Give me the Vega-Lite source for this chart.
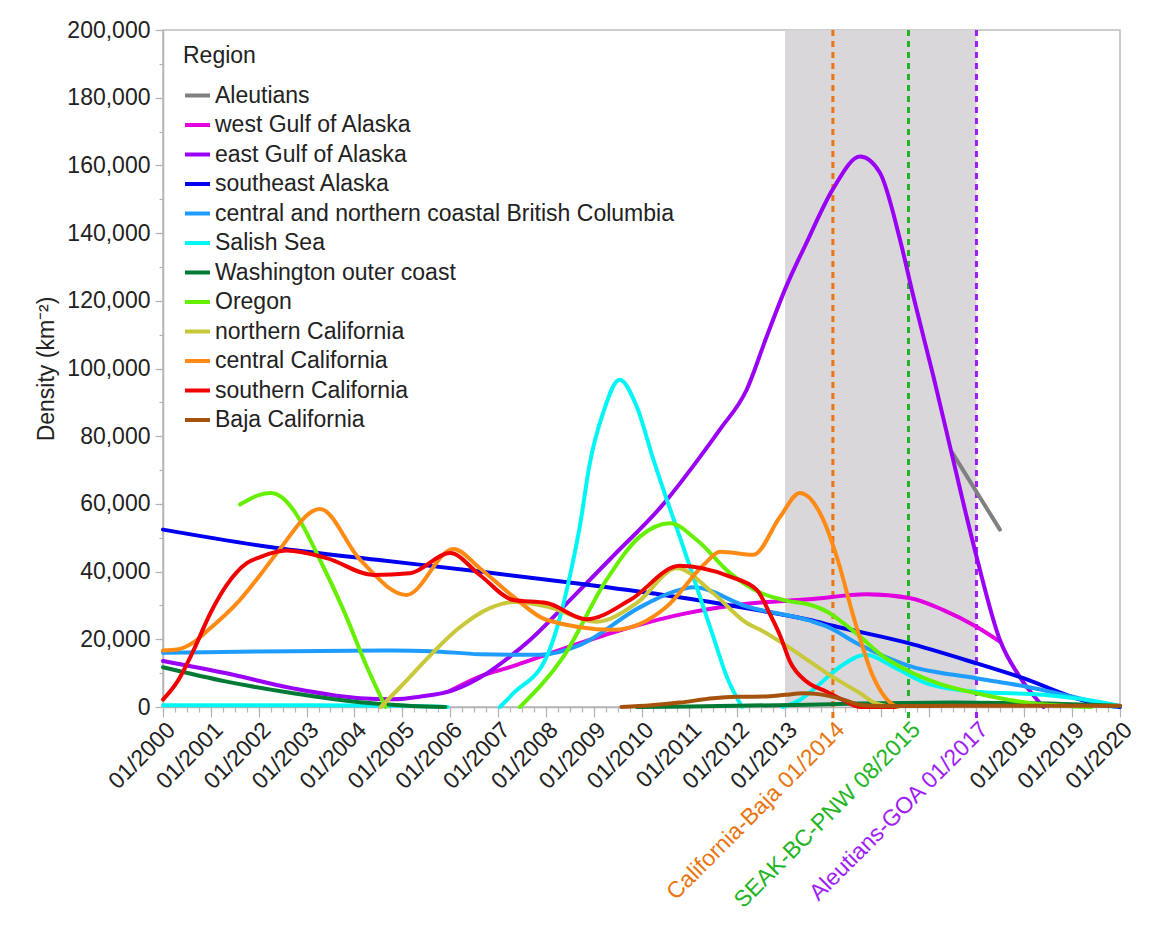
{
  "$schema": "https://vega.github.io/schema/vega-lite/v6.json",
  "width": 957,
  "height": 677,
  "autosize": "none",
  "padding": {"left": 163, "top": 30, "right": 36, "bottom": 226},
  "background": "white",
  "config": {
    "font": "Liberation Sans",
    "view": {"stroke": "#bdbdbd", "strokeWidth": 1.5},
    "axis": {
      "domainColor": "#b4b4b4",
      "domainWidth": 1.5,
      "tickColor": "#b4b4b4",
      "tickWidth": 1.2,
      "grid": false,
      "labelColor": "#222222",
      "labelFont": "Liberation Sans",
      "labelFontSize": 23,
      "titleFont": "Liberation Sans",
      "titleColor": "#222222"
    }
  },
  "datasets": {
    "density": [
      {"r": "Aleutians", "s": 1, "x": 2016.5, "y": 75000},
      {"r": "Aleutians", "s": 1, "x": 2017.49, "y": 52400},

      {"r": "west Gulf of Alaska", "s": 1, "x": 2006.0, "y": 4800},
      {"r": "west Gulf of Alaska", "s": 1, "x": 2006.62, "y": 9000},
      {"r": "west Gulf of Alaska", "s": 1, "x": 2007.3, "y": 12000},
      {"r": "west Gulf of Alaska", "s": 1, "x": 2008.0, "y": 15400},
      {"r": "west Gulf of Alaska", "s": 1, "x": 2009.4, "y": 22000},
      {"r": "west Gulf of Alaska", "s": 1, "x": 2010.8, "y": 27300},
      {"r": "west Gulf of Alaska", "s": 1, "x": 2012.2, "y": 30500},
      {"r": "west Gulf of Alaska", "s": 1, "x": 2013.5, "y": 31800},
      {"r": "west Gulf of Alaska", "s": 1, "x": 2014.7, "y": 33300},
      {"r": "west Gulf of Alaska", "s": 1, "x": 2015.6, "y": 32200},
      {"r": "west Gulf of Alaska", "s": 1, "x": 2016.3, "y": 28700},
      {"r": "west Gulf of Alaska", "s": 1, "x": 2017.0, "y": 23700},
      {"r": "west Gulf of Alaska", "s": 1, "x": 2017.49, "y": 19300},

      {"r": "east Gulf of Alaska", "s": 1, "x": 2000.0, "y": 13600},
      {"r": "east Gulf of Alaska", "s": 1, "x": 2001.33, "y": 9950},
      {"r": "east Gulf of Alaska", "s": 1, "x": 2002.72, "y": 5500},
      {"r": "east Gulf of Alaska", "s": 1, "x": 2004.12, "y": 2600},
      {"r": "east Gulf of Alaska", "s": 1, "x": 2004.8, "y": 2300},
      {"r": "east Gulf of Alaska", "s": 1, "x": 2005.37, "y": 3050},
      {"r": "east Gulf of Alaska", "s": 1, "x": 2006.07, "y": 5000},
      {"r": "east Gulf of Alaska", "s": 1, "x": 2006.77, "y": 9950},
      {"r": "east Gulf of Alaska", "s": 1, "x": 2007.25, "y": 14900},
      {"r": "east Gulf of Alaska", "s": 1, "x": 2007.67, "y": 19800},
      {"r": "east Gulf of Alaska", "s": 1, "x": 2008.5, "y": 31500},
      {"r": "east Gulf of Alaska", "s": 1, "x": 2009.4, "y": 44500},
      {"r": "east Gulf of Alaska", "s": 1, "x": 2010.46, "y": 60000},
      {"r": "east Gulf of Alaska", "s": 1, "x": 2011.15, "y": 72500},
      {"r": "east Gulf of Alaska", "s": 1, "x": 2011.64, "y": 82000},
      {"r": "east Gulf of Alaska", "s": 1, "x": 2012.2, "y": 93800},
      {"r": "east Gulf of Alaska", "s": 1, "x": 2012.62, "y": 109600},
      {"r": "east Gulf of Alaska", "s": 1, "x": 2013.03, "y": 124400},
      {"r": "east Gulf of Alaska", "s": 1, "x": 2013.45, "y": 137200},
      {"r": "east Gulf of Alaska", "s": 1, "x": 2014.0, "y": 153000},
      {"r": "east Gulf of Alaska", "s": 1, "x": 2014.57, "y": 162600},
      {"r": "east Gulf of Alaska", "s": 1, "x": 2014.98, "y": 157900},
      {"r": "east Gulf of Alaska", "s": 1, "x": 2015.4, "y": 138200},
      {"r": "east Gulf of Alaska", "s": 1, "x": 2015.68, "y": 121400},
      {"r": "east Gulf of Alaska", "s": 1, "x": 2016.1, "y": 97700},
      {"r": "east Gulf of Alaska", "s": 1, "x": 2016.48, "y": 75000},
      {"r": "east Gulf of Alaska", "s": 1, "x": 2017.0, "y": 44500},
      {"r": "east Gulf of Alaska", "s": 1, "x": 2017.49, "y": 19800},
      {"r": "east Gulf of Alaska", "s": 1, "x": 2017.9, "y": 9000},
      {"r": "east Gulf of Alaska", "s": 1, "x": 2018.33, "y": 1100},
      {"r": "east Gulf of Alaska", "s": 1, "x": 2018.4, "y": 0},

      {"r": "southeast Alaska", "s": 1, "x": 2000.0, "y": 52400},
      {"r": "southeast Alaska", "s": 1, "x": 2002.38, "y": 46950},
      {"r": "southeast Alaska", "s": 1, "x": 2004.47, "y": 43500},
      {"r": "southeast Alaska", "s": 1, "x": 2006.62, "y": 40000},
      {"r": "southeast Alaska", "s": 1, "x": 2008.71, "y": 36400},
      {"r": "southeast Alaska", "s": 1, "x": 2010.46, "y": 33100},
      {"r": "southeast Alaska", "s": 1, "x": 2011.5, "y": 30900},
      {"r": "southeast Alaska", "s": 1, "x": 2012.48, "y": 28500},
      {"r": "southeast Alaska", "s": 1, "x": 2013.52, "y": 25700},
      {"r": "southeast Alaska", "s": 1, "x": 2014.0, "y": 24000},
      {"r": "southeast Alaska", "s": 1, "x": 2015.54, "y": 19000},
      {"r": "southeast Alaska", "s": 1, "x": 2017.0, "y": 12900},
      {"r": "southeast Alaska", "s": 1, "x": 2017.9, "y": 8900},
      {"r": "southeast Alaska", "s": 1, "x": 2019.44, "y": 1200},
      {"r": "southeast Alaska", "s": 1, "x": 2020.0, "y": 0},

      {"r": "central and northern coastal British Columbia", "s": 1, "x": 2000.0, "y": 16000},
      {"r": "central and northern coastal British Columbia", "s": 1, "x": 2002.03, "y": 16400},
      {"r": "central and northern coastal British Columbia", "s": 1, "x": 2004.8, "y": 16700},
      {"r": "central and northern coastal British Columbia", "s": 1, "x": 2005.6, "y": 16500},
      {"r": "central and northern coastal British Columbia", "s": 1, "x": 2006.62, "y": 15600},
      {"r": "central and northern coastal British Columbia", "s": 1, "x": 2007.88, "y": 15400},
      {"r": "central and northern coastal British Columbia", "s": 1, "x": 2008.71, "y": 18300},
      {"r": "central and northern coastal British Columbia", "s": 1, "x": 2009.97, "y": 29500},
      {"r": "central and northern coastal British Columbia", "s": 1, "x": 2010.66, "y": 34000},
      {"r": "central and northern coastal British Columbia", "s": 1, "x": 2011.08, "y": 35400},
      {"r": "central and northern coastal British Columbia", "s": 1, "x": 2012.2, "y": 29700},
      {"r": "central and northern coastal British Columbia", "s": 1, "x": 2013.52, "y": 25500},
      {"r": "central and northern coastal British Columbia", "s": 1, "x": 2013.87, "y": 23800},
      {"r": "central and northern coastal British Columbia", "s": 1, "x": 2014.57, "y": 18300},
      {"r": "central and northern coastal British Columbia", "s": 1, "x": 2015.54, "y": 12400},
      {"r": "central and northern coastal British Columbia", "s": 1, "x": 2017.0, "y": 8500},
      {"r": "central and northern coastal British Columbia", "s": 1, "x": 2018.05, "y": 6000},
      {"r": "central and northern coastal British Columbia", "s": 1, "x": 2019.44, "y": 1600},
      {"r": "central and northern coastal British Columbia", "s": 1, "x": 2019.9, "y": 0},

      {"r": "Salish Sea", "s": 1, "x": 2000.0, "y": 500},
      {"r": "Salish Sea", "s": 1, "x": 2003.0, "y": 500},
      {"r": "Salish Sea", "s": 1, "x": 2005.0, "y": 400},
      {"r": "Salish Sea", "s": 1, "x": 2005.95, "y": 0},
      {"r": "Salish Sea", "s": 2, "x": 2007.04, "y": 0},
      {"r": "Salish Sea", "s": 2, "x": 2007.32, "y": 4000},
      {"r": "Salish Sea", "s": 2, "x": 2008.02, "y": 14900},
      {"r": "Salish Sea", "s": 2, "x": 2008.3, "y": 26700},
      {"r": "Salish Sea", "s": 2, "x": 2008.5, "y": 38500},
      {"r": "Salish Sea", "s": 2, "x": 2008.71, "y": 53300},
      {"r": "Salish Sea", "s": 2, "x": 2008.92, "y": 72000},
      {"r": "Salish Sea", "s": 2, "x": 2009.2, "y": 87000},
      {"r": "Salish Sea", "s": 2, "x": 2009.54, "y": 96700},
      {"r": "Salish Sea", "s": 2, "x": 2009.9, "y": 88800},
      {"r": "Salish Sea", "s": 2, "x": 2010.25, "y": 73000},
      {"r": "Salish Sea", "s": 2, "x": 2010.53, "y": 61200},
      {"r": "Salish Sea", "s": 2, "x": 2010.87, "y": 47400},
      {"r": "Salish Sea", "s": 2, "x": 2011.15, "y": 35600},
      {"r": "Salish Sea", "s": 2, "x": 2011.5, "y": 20800},
      {"r": "Salish Sea", "s": 2, "x": 2011.78, "y": 9000},
      {"r": "Salish Sea", "s": 2, "x": 2012.1, "y": 0},
      {"r": "Salish Sea", "s": 3, "x": 2012.95, "y": 0},
      {"r": "Salish Sea", "s": 3, "x": 2013.3, "y": 2000},
      {"r": "Salish Sea", "s": 3, "x": 2013.66, "y": 6000},
      {"r": "Salish Sea", "s": 3, "x": 2014.15, "y": 11900},
      {"r": "Salish Sea", "s": 3, "x": 2014.7, "y": 15400},
      {"r": "Salish Sea", "s": 3, "x": 2015.26, "y": 11900},
      {"r": "Salish Sea", "s": 3, "x": 2015.96, "y": 7000},
      {"r": "Salish Sea", "s": 3, "x": 2017.0, "y": 4500},
      {"r": "Salish Sea", "s": 3, "x": 2018.4, "y": 3600},
      {"r": "Salish Sea", "s": 3, "x": 2019.8, "y": 900},
      {"r": "Salish Sea", "s": 3, "x": 2020.0, "y": 300},

      {"r": "Washington outer coast", "s": 1, "x": 2000.0, "y": 11750},
      {"r": "Washington outer coast", "s": 1, "x": 2001.33, "y": 7500},
      {"r": "Washington outer coast", "s": 1, "x": 2002.72, "y": 4050},
      {"r": "Washington outer coast", "s": 1, "x": 2004.12, "y": 1400},
      {"r": "Washington outer coast", "s": 1, "x": 2005.2, "y": 300},
      {"r": "Washington outer coast", "s": 1, "x": 2005.9, "y": 0},
      {"r": "Washington outer coast", "s": 2, "x": 2009.9, "y": 0},
      {"r": "Washington outer coast", "s": 2, "x": 2011.0, "y": 150},
      {"r": "Washington outer coast", "s": 2, "x": 2012.0, "y": 350},
      {"r": "Washington outer coast", "s": 2, "x": 2013.5, "y": 700},
      {"r": "Washington outer coast", "s": 2, "x": 2014.5, "y": 1000},
      {"r": "Washington outer coast", "s": 2, "x": 2015.5, "y": 1200},
      {"r": "Washington outer coast", "s": 2, "x": 2016.5, "y": 1300},
      {"r": "Washington outer coast", "s": 2, "x": 2017.5, "y": 1200},
      {"r": "Washington outer coast", "s": 2, "x": 2018.5, "y": 1000},
      {"r": "Washington outer coast", "s": 2, "x": 2019.5, "y": 600},
      {"r": "Washington outer coast", "s": 2, "x": 2020.0, "y": 300},

      {"r": "Oregon", "s": 1, "x": 2001.61, "y": 59800},
      {"r": "Oregon", "s": 1, "x": 2002.0, "y": 62600},
      {"r": "Oregon", "s": 1, "x": 2002.24, "y": 63200},
      {"r": "Oregon", "s": 1, "x": 2002.5, "y": 61800},
      {"r": "Oregon", "s": 1, "x": 2002.72, "y": 58300},
      {"r": "Oregon", "s": 1, "x": 2003.28, "y": 43500},
      {"r": "Oregon", "s": 1, "x": 2003.77, "y": 28700},
      {"r": "Oregon", "s": 1, "x": 2004.26, "y": 11900},
      {"r": "Oregon", "s": 1, "x": 2004.65, "y": 0},
      {"r": "Oregon", "s": 2, "x": 2007.46, "y": 0},
      {"r": "Oregon", "s": 2, "x": 2008.37, "y": 14900},
      {"r": "Oregon", "s": 2, "x": 2009.27, "y": 37600},
      {"r": "Oregon", "s": 2, "x": 2009.97, "y": 50400},
      {"r": "Oregon", "s": 2, "x": 2010.6, "y": 54300},
      {"r": "Oregon", "s": 2, "x": 2011.15, "y": 49400},
      {"r": "Oregon", "s": 2, "x": 2011.85, "y": 39550},
      {"r": "Oregon", "s": 2, "x": 2012.48, "y": 33800},
      {"r": "Oregon", "s": 2, "x": 2013.0, "y": 31500},
      {"r": "Oregon", "s": 2, "x": 2013.52, "y": 30200},
      {"r": "Oregon", "s": 2, "x": 2013.87, "y": 28200},
      {"r": "Oregon", "s": 2, "x": 2014.2, "y": 25000},
      {"r": "Oregon", "s": 2, "x": 2014.57, "y": 20800},
      {"r": "Oregon", "s": 2, "x": 2015.0, "y": 15500},
      {"r": "Oregon", "s": 2, "x": 2015.54, "y": 10950},
      {"r": "Oregon", "s": 2, "x": 2016.2, "y": 7000},
      {"r": "Oregon", "s": 2, "x": 2017.0, "y": 4050},
      {"r": "Oregon", "s": 2, "x": 2018.1, "y": 1200},
      {"r": "Oregon", "s": 2, "x": 2019.4, "y": 0},

      {"r": "northern California", "s": 1, "x": 2004.55, "y": 0},
      {"r": "northern California", "s": 1, "x": 2005.0, "y": 6500},
      {"r": "northern California", "s": 1, "x": 2005.5, "y": 14000},
      {"r": "northern California", "s": 1, "x": 2006.14, "y": 22800},
      {"r": "northern California", "s": 1, "x": 2006.83, "y": 29200},
      {"r": "northern California", "s": 1, "x": 2007.32, "y": 31000},
      {"r": "northern California", "s": 1, "x": 2008.02, "y": 29700},
      {"r": "northern California", "s": 1, "x": 2009.06, "y": 25200},
      {"r": "northern California", "s": 1, "x": 2009.9, "y": 30700},
      {"r": "northern California", "s": 1, "x": 2010.74, "y": 41000},
      {"r": "northern California", "s": 1, "x": 2011.5, "y": 33600},
      {"r": "northern California", "s": 1, "x": 2012.2, "y": 24800},
      {"r": "northern California", "s": 1, "x": 2012.48, "y": 22800},
      {"r": "northern California", "s": 1, "x": 2013.52, "y": 13400},
      {"r": "northern California", "s": 1, "x": 2013.87, "y": 10000},
      {"r": "northern California", "s": 1, "x": 2014.57, "y": 4050},
      {"r": "northern California", "s": 1, "x": 2014.9, "y": 1100},
      {"r": "northern California", "s": 1, "x": 2015.3, "y": 0},

      {"r": "central California", "s": 1, "x": 2000.0, "y": 16700},
      {"r": "central California", "s": 1, "x": 2000.3, "y": 17000},
      {"r": "central California", "s": 1, "x": 2000.63, "y": 19000},
      {"r": "central California", "s": 1, "x": 2000.91, "y": 22300},
      {"r": "central California", "s": 1, "x": 2001.6, "y": 31500},
      {"r": "central California", "s": 1, "x": 2002.03, "y": 39000},
      {"r": "central California", "s": 1, "x": 2002.38, "y": 45500},
      {"r": "central California", "s": 1, "x": 2003.28, "y": 58500},
      {"r": "central California", "s": 1, "x": 2004.12, "y": 43500},
      {"r": "central California", "s": 1, "x": 2005.09, "y": 33100},
      {"r": "central California", "s": 1, "x": 2006.07, "y": 46700},
      {"r": "central California", "s": 1, "x": 2006.62, "y": 41000},
      {"r": "central California", "s": 1, "x": 2007.32, "y": 32600},
      {"r": "central California", "s": 1, "x": 2008.02, "y": 25700},
      {"r": "central California", "s": 1, "x": 2009.41, "y": 22800},
      {"r": "central California", "s": 1, "x": 2010.53, "y": 29700},
      {"r": "central California", "s": 1, "x": 2011.3, "y": 42000},
      {"r": "central California", "s": 1, "x": 2011.64, "y": 45900},
      {"r": "central California", "s": 1, "x": 2012.34, "y": 45000},
      {"r": "central California", "s": 1, "x": 2012.9, "y": 56300},
      {"r": "central California", "s": 1, "x": 2013.31, "y": 63200},
      {"r": "central California", "s": 1, "x": 2013.8, "y": 55300},
      {"r": "central California", "s": 1, "x": 2014.1, "y": 43500},
      {"r": "central California", "s": 1, "x": 2014.43, "y": 26700},
      {"r": "central California", "s": 1, "x": 2014.84, "y": 9000},
      {"r": "central California", "s": 1, "x": 2015.26, "y": 600},
      {"r": "central California", "s": 1, "x": 2015.35, "y": 0},

      {"r": "southern California", "s": 1, "x": 2000.0, "y": 2200},
      {"r": "southern California", "s": 1, "x": 2000.3, "y": 7500},
      {"r": "southern California", "s": 1, "x": 2000.63, "y": 16500},
      {"r": "southern California", "s": 1, "x": 2001.0, "y": 28000},
      {"r": "southern California", "s": 1, "x": 2001.33, "y": 36000},
      {"r": "southern California", "s": 1, "x": 2001.75, "y": 42500},
      {"r": "southern California", "s": 1, "x": 2002.03, "y": 44300},
      {"r": "southern California", "s": 1, "x": 2002.58, "y": 46200},
      {"r": "southern California", "s": 1, "x": 2003.42, "y": 44000},
      {"r": "southern California", "s": 1, "x": 2004.4, "y": 39000},
      {"r": "southern California", "s": 1, "x": 2005.16, "y": 39500},
      {"r": "southern California", "s": 1, "x": 2006.0, "y": 45500},
      {"r": "southern California", "s": 1, "x": 2006.62, "y": 39000},
      {"r": "southern California", "s": 1, "x": 2007.32, "y": 31600},
      {"r": "southern California", "s": 1, "x": 2008.02, "y": 30700},
      {"r": "southern California", "s": 1, "x": 2008.85, "y": 25900},
      {"r": "southern California", "s": 1, "x": 2009.76, "y": 31600},
      {"r": "southern California", "s": 1, "x": 2010.8, "y": 41700},
      {"r": "southern California", "s": 1, "x": 2011.85, "y": 38500},
      {"r": "southern California", "s": 1, "x": 2012.41, "y": 34600},
      {"r": "southern California", "s": 1, "x": 2012.7, "y": 27000},
      {"r": "southern California", "s": 1, "x": 2012.9, "y": 21000},
      {"r": "southern California", "s": 1, "x": 2013.1, "y": 13500},
      {"r": "southern California", "s": 1, "x": 2013.45, "y": 7500},
      {"r": "southern California", "s": 1, "x": 2013.87, "y": 4500},
      {"r": "southern California", "s": 1, "x": 2014.15, "y": 2500},
      {"r": "southern California", "s": 1, "x": 2014.57, "y": 0},
      {"r": "southern California", "s": 1, "x": 2015.3, "y": 0},

      {"r": "Baja California", "s": 1, "x": 2009.58, "y": 0},
      {"r": "Baja California", "s": 1, "x": 2010.2, "y": 500},
      {"r": "Baja California", "s": 1, "x": 2010.8, "y": 1300},
      {"r": "Baja California", "s": 1, "x": 2011.5, "y": 2600},
      {"r": "Baja California", "s": 1, "x": 2012.0, "y": 3000},
      {"r": "Baja California", "s": 1, "x": 2012.55, "y": 3100},
      {"r": "Baja California", "s": 1, "x": 2013.0, "y": 3600},
      {"r": "Baja California", "s": 1, "x": 2013.38, "y": 4050},
      {"r": "Baja California", "s": 1, "x": 2013.7, "y": 3800},
      {"r": "Baja California", "s": 1, "x": 2014.0, "y": 3000},
      {"r": "Baja California", "s": 1, "x": 2014.3, "y": 1800},
      {"r": "Baja California", "s": 1, "x": 2014.57, "y": 600},
      {"r": "Baja California", "s": 1, "x": 2015.0, "y": 300},
      {"r": "Baja California", "s": 1, "x": 2016.0, "y": 300},
      {"r": "Baja California", "s": 1, "x": 2017.0, "y": 400},
      {"r": "Baja California", "s": 1, "x": 2018.0, "y": 400},
      {"r": "Baja California", "s": 1, "x": 2019.0, "y": 400},
      {"r": "Baja California", "s": 1, "x": 2020.0, "y": 400}
    ],
    "events": [
      {"event": "California-Baja", "x": 2014.0, "label": "California-Baja 01/2014"},
      {"event": "SEAK-BC-PNW", "x": 2015.58, "label": "SEAK-BC-PNW 08/2015"},
      {"event": "Aleutians-GOA", "x": 2017.0, "label": "Aleutians-GOA 01/2017"}
    ],
    "period": [
      {"start": 2013.0, "end": 2017.0}
    ]
  },
  "layer": [
    {
      "data": {"name": "period"},
      "mark": {"type": "rect", "color": "#d9d7d9"},
      "encoding": {
        "x": {"field": "start", "type": "quantitative", "scale": {"domain": [2000, 2020], "nice": false, "zero": false}, "axis": null},
        "x2": {"field": "end"}
      }
    },
    {
      "data": {"name": "events"},
      "mark": {"type": "rule", "strokeWidth": 3, "strokeDash": [6, 5], "clip": false},
      "encoding": {
        "x": {
          "field": "x", "type": "quantitative",
          "scale": {"domain": [2000, 2020], "nice": false, "zero": false},
          "axis": {
            "orient": "bottom", "title": null, "labels": false, "domain": false, "tickSize": 5,
            "values": [2000, 2000.25, 2000.5, 2000.75, 2001, 2001.25, 2001.5, 2001.75, 2002, 2002.25, 2002.5, 2002.75, 2003, 2003.25, 2003.5, 2003.75, 2004, 2004.25, 2004.5, 2004.75, 2005, 2005.25, 2005.5, 2005.75, 2006, 2006.25, 2006.5, 2006.75, 2007, 2007.25, 2007.5, 2007.75, 2008, 2008.25, 2008.5, 2008.75, 2009, 2009.25, 2009.5, 2009.75, 2010, 2010.25, 2010.5, 2010.75, 2011, 2011.25, 2011.5, 2011.75, 2012, 2012.25, 2012.5, 2012.75, 2013, 2013.25, 2013.5, 2013.75, 2014, 2014.25, 2014.5, 2014.75, 2015, 2015.25, 2015.5, 2015.75, 2016, 2016.25, 2016.5, 2016.75, 2017, 2017.25, 2017.5, 2017.75, 2018, 2018.25, 2018.5, 2018.75, 2019, 2019.25, 2019.5, 2019.75, 2020]
          }
        },
        "y": {
          "datum": 200000, "type": "quantitative",
          "scale": {"domain": [0, 200000], "nice": false},
          "axis": {
            "orient": "left", "title": null, "labels": false, "domain": false, "tickSize": 4,
            "values": [0, 10000, 20000, 30000, 40000, 50000, 60000, 70000, 80000, 90000, 100000, 110000, 120000, 130000, 140000, 150000, 160000, 170000, 180000, 190000, 200000]
          }
        },
        "y2": {"datum": -4000},
        "stroke": {
          "field": "event", "type": "nominal", "legend": null,
          "scale": {"domain": ["California-Baja", "SEAK-BC-PNW", "Aleutians-GOA"], "range": ["#e8750f", "#22b422", "#a01ef5"]}
        }
      }
    },
    {
      "data": {"name": "density"},
      "mark": {"type": "line", "interpolate": "monotone", "strokeWidth": 4, "strokeCap": "round"},
      "encoding": {
        "x": {
          "field": "x", "type": "quantitative",
          "scale": {"domain": [2000, 2020], "nice": false, "zero": false},
          "axis": {
            "orient": "bottom", "title": null, "tickSize": 10,
            "values": [2000, 2001, 2002, 2003, 2004, 2005, 2006, 2007, 2008, 2009, 2010, 2011, 2012, 2013, 2014, 2015, 2016, 2017, 2018, 2019, 2020],
            "labelExpr": "datum.value >= 2014 && datum.value <= 2017 ? '' : '01/' + datum.value",
            "labelAngle": -45, "labelAlign": "right", "labelBaseline": "middle",
            "labelPadding": 9, "labelOffset": 8, "labelOverlap": false, "labelFlush": false, "labelBound": false
          }
        },
        "y": {
          "field": "y", "type": "quantitative",
          "scale": {"domain": [0, 200000], "nice": false},
          "axis": {
            "orient": "left", "title": "Density (km⁻²)", "tickSize": 8, "labelPadding": 5,
            "values": [0, 20000, 40000, 60000, 80000, 100000, 120000, 140000, 160000, 180000, 200000],
            "format": ",d", "titleFontSize": 23, "titleFontWeight": "normal", "titlePadding": 8
          }
        },
        "color": {
          "field": "r", "type": "nominal",
          "scale": {
            "domain": ["Aleutians", "west Gulf of Alaska", "east Gulf of Alaska", "southeast Alaska", "central and northern coastal British Columbia", "Salish Sea", "Washington outer coast", "Oregon", "northern California", "central California", "southern California", "Baja California"],
            "range": ["#808080", "#e000e0", "#9a00f5", "#0000f0", "#1e9cff", "#00f5f5", "#007a35", "#66f000", "#c8c83a", "#ff8a14", "#f00000", "#a5520c"]
          },
          "legend": {
            "title": "Region", "orient": "none", "legendX": 20, "legendY": 15,
            "titleFontSize": 23, "titleFontWeight": "normal", "titleColor": "#222222", "titlePadding": 13,
            "labelFontSize": 23, "labelColor": "#222222", "labelLimit": 800, "labelOffset": 3,
            "symbolType": "stroke", "symbolSize": 625, "symbolStrokeWidth": 4, "rowPadding": 2.5,
            "padding": 0
          }
        },
        "detail": {"field": "s", "type": "nominal"},
        "order": {"field": "x", "type": "quantitative"}
      }
    },
    {
      "data": {"name": "events"},
      "mark": {"type": "text", "angle": 315, "align": "right", "baseline": "middle", "fontSize": 23, "dx": -7.8, "dy": 19.1},
      "encoding": {
        "x": {"field": "x", "type": "quantitative", "scale": {"domain": [2000, 2020], "nice": false, "zero": false}, "axis": null},
        "y": {"datum": 0, "type": "quantitative", "scale": {"domain": [0, 200000], "nice": false}, "axis": null},
        "text": {"field": "label"},
        "fill": {
          "field": "event", "type": "nominal", "legend": null,
          "scale": {"domain": ["California-Baja", "SEAK-BC-PNW", "Aleutians-GOA"], "range": ["#e8750f", "#22b422", "#a01ef5"]}
        }
      }
    }
  ],
  "resolve": {"axis": {"x": "independent", "y": "independent"}}
}
